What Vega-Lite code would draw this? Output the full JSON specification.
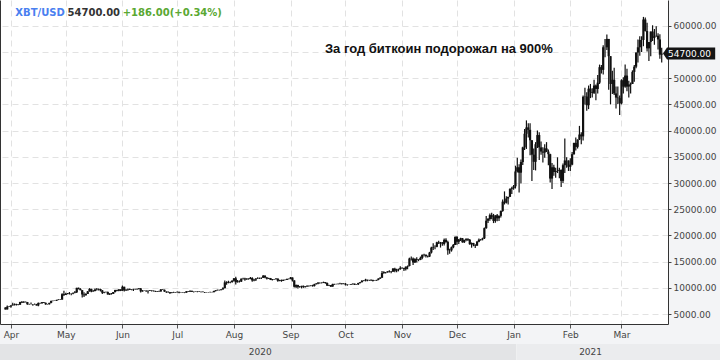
{
  "$schema": "https://vega.github.io/schema/vega-lite/v6.json",
  "background": "#f3f4f6",
  "padding": 0,
  "spacing": 20,
  "bounds": "flush",
  "config": {
    "view": {"fill": "white", "stroke": null},
    "font": "DejaVu Sans"
  },
  "datasets": {
    "ohlc": [
      {"t":"2020-03-29","o":6250,"h":6280,"l":5870,"c":5880},
      {"t":"2020-03-30","o":5880,"h":6600,"l":5860,"c":6400},
      {"t":"2020-03-31","o":6400,"h":6520,"l":6350,"c":6420},
      {"t":"2020-04-01","o":6420,"h":6680,"l":6200,"c":6640},
      {"t":"2020-04-02","o":6640,"h":7150,"l":6600,"c":6800},
      {"t":"2020-04-03","o":6800,"h":7020,"l":6620,"c":6730},
      {"t":"2020-04-04","o":6730,"h":6950,"l":6640,"c":6860},
      {"t":"2020-04-05","o":6860,"h":6880,"l":6680,"c":6770},
      {"t":"2020-04-06","o":6770,"h":7350,"l":6760,"c":7290},
      {"t":"2020-04-07","o":7290,"h":7460,"l":7100,"c":7180},
      {"t":"2020-04-08","o":7180,"h":7420,"l":7150,"c":7340},
      {"t":"2020-04-09","o":7340,"h":7370,"l":7200,"c":7300},
      {"t":"2020-04-10","o":7300,"h":7310,"l":6750,"c":6860},
      {"t":"2020-04-11","o":6860,"h":6950,"l":6780,"c":6890},
      {"t":"2020-04-12","o":6890,"h":7190,"l":6830,"c":6910},
      {"t":"2020-04-13","o":6910,"h":6920,"l":6560,"c":6850},
      {"t":"2020-04-14","o":6850,"h":6990,"l":6780,"c":6860},
      {"t":"2020-04-15","o":6860,"h":6930,"l":6610,"c":6630},
      {"t":"2020-04-16","o":6630,"h":7180,"l":6480,"c":7110},
      {"t":"2020-04-17","o":7110,"h":7150,"l":6990,"c":7030},
      {"t":"2020-04-18","o":7030,"h":7300,"l":7020,"c":7260},
      {"t":"2020-04-19","o":7260,"h":7270,"l":7080,"c":7130},
      {"t":"2020-04-20","o":7130,"h":7200,"l":6780,"c":6840},
      {"t":"2020-04-21","o":6840,"h":6930,"l":6800,"c":6850},
      {"t":"2020-04-22","o":6850,"h":7150,"l":6820,"c":7120},
      {"t":"2020-04-23","o":7120,"h":7580,"l":7030,"c":7480},
      {"t":"2020-04-24","o":7480,"h":7600,"l":7430,"c":7510},
      {"t":"2020-04-25","o":7510,"h":7590,"l":7470,"c":7540},
      {"t":"2020-04-26","o":7540,"h":7720,"l":7500,"c":7690},
      {"t":"2020-04-27","o":7690,"h":7800,"l":7650,"c":7780},
      {"t":"2020-04-28","o":7780,"h":7820,"l":7680,"c":7760},
      {"t":"2020-04-29","o":7760,"h":8950,"l":7740,"c":8780},
      {"t":"2020-04-30","o":8780,"h":9450,"l":8450,"c":8630},
      {"t":"2020-05-01","o":8630,"h":9050,"l":8620,"c":8830},
      {"t":"2020-05-02","o":8830,"h":9000,"l":8760,"c":8970},
      {"t":"2020-05-03","o":8970,"h":9200,"l":8720,"c":8900},
      {"t":"2020-05-04","o":8900,"h":8950,"l":8600,"c":8890},
      {"t":"2020-05-05","o":8890,"h":9100,"l":8780,"c":9030},
      {"t":"2020-05-06","o":9030,"h":9400,"l":8950,"c":9150},
      {"t":"2020-05-07","o":9150,"h":10000,"l":9030,"c":9990},
      {"t":"2020-05-08","o":9990,"h":10050,"l":9700,"c":9810},
      {"t":"2020-05-09","o":9810,"h":9920,"l":9520,"c":9540},
      {"t":"2020-05-10","o":9540,"h":9570,"l":8150,"c":8730},
      {"t":"2020-05-11","o":8730,"h":9150,"l":8250,"c":8570},
      {"t":"2020-05-12","o":8570,"h":8980,"l":8550,"c":8820},
      {"t":"2020-05-13","o":8820,"h":9400,"l":8800,"c":9320},
      {"t":"2020-05-14","o":9320,"h":9930,"l":9270,"c":9800},
      {"t":"2020-05-15","o":9800,"h":9840,"l":9160,"c":9310},
      {"t":"2020-05-16","o":9310,"h":9600,"l":9250,"c":9380},
      {"t":"2020-05-17","o":9380,"h":9880,"l":9340,"c":9670},
      {"t":"2020-05-18","o":9670,"h":9950,"l":9480,"c":9730},
      {"t":"2020-05-19","o":9730,"h":9890,"l":9500,"c":9780},
      {"t":"2020-05-20","o":9780,"h":9830,"l":9300,"c":9510},
      {"t":"2020-05-21","o":9510,"h":9560,"l":8830,"c":9060},
      {"t":"2020-05-22","o":9060,"h":9260,"l":8950,"c":9170},
      {"t":"2020-05-23","o":9170,"h":9310,"l":9090,"c":9180},
      {"t":"2020-05-24","o":9180,"h":9300,"l":8700,"c":8720},
      {"t":"2020-05-25","o":8720,"h":8980,"l":8640,"c":8900},
      {"t":"2020-05-26","o":8900,"h":9010,"l":8700,"c":8840},
      {"t":"2020-05-27","o":8840,"h":9220,"l":8820,"c":9200},
      {"t":"2020-05-28","o":9200,"h":9620,"l":9110,"c":9570},
      {"t":"2020-05-29","o":9570,"h":9610,"l":9330,"c":9430},
      {"t":"2020-05-30","o":9430,"h":9740,"l":9360,"c":9700},
      {"t":"2020-05-31","o":9700,"h":9700,"l":9370,"c":9450},
      {"t":"2020-06-01","o":9450,"h":10430,"l":9420,"c":10200},
      {"t":"2020-06-02","o":10200,"h":10220,"l":9280,"c":9520},
      {"t":"2020-06-03","o":9520,"h":9690,"l":9400,"c":9670},
      {"t":"2020-06-04","o":9670,"h":9880,"l":9450,"c":9790},
      {"t":"2020-06-05","o":9790,"h":9860,"l":9580,"c":9620},
      {"t":"2020-06-06","o":9620,"h":9730,"l":9530,"c":9670},
      {"t":"2020-06-07","o":9670,"h":9800,"l":9400,"c":9750},
      {"t":"2020-06-08","o":9750,"h":9800,"l":9630,"c":9780},
      {"t":"2020-06-09","o":9780,"h":9880,"l":9570,"c":9770},
      {"t":"2020-06-10","o":9770,"h":9980,"l":9690,"c":9880},
      {"t":"2020-06-11","o":9880,"h":9950,"l":9100,"c":9320},
      {"t":"2020-06-12","o":9320,"h":9560,"l":9250,"c":9480},
      {"t":"2020-06-13","o":9480,"h":9500,"l":9370,"c":9470},
      {"t":"2020-06-14","o":9470,"h":9490,"l":9250,"c":9340},
      {"t":"2020-06-15","o":9340,"h":9500,"l":8920,"c":9430},
      {"t":"2020-06-16","o":9430,"h":9580,"l":9380,"c":9520},
      {"t":"2020-06-17","o":9520,"h":9550,"l":9300,"c":9460},
      {"t":"2020-06-18","o":9460,"h":9480,"l":9280,"c":9390},
      {"t":"2020-06-19","o":9390,"h":9420,"l":9220,"c":9310},
      {"t":"2020-06-20","o":9310,"h":9400,"l":9200,"c":9360},
      {"t":"2020-06-21","o":9360,"h":9420,"l":9270,"c":9290},
      {"t":"2020-06-22","o":9290,"h":9770,"l":9280,"c":9690},
      {"t":"2020-06-23","o":9690,"h":9700,"l":9580,"c":9630},
      {"t":"2020-06-24","o":9630,"h":9660,"l":9220,"c":9290},
      {"t":"2020-06-25","o":9290,"h":9320,"l":9000,"c":9250},
      {"t":"2020-06-26","o":9250,"h":9290,"l":9050,"c":9160},
      {"t":"2020-06-27","o":9160,"h":9200,"l":8830,"c":9010},
      {"t":"2020-06-28","o":9010,"h":9170,"l":8960,"c":9110},
      {"t":"2020-06-29","o":9110,"h":9230,"l":9040,"c":9190},
      {"t":"2020-06-30","o":9190,"h":9200,"l":9080,"c":9140},
      {"t":"2020-07-01","o":9140,"h":9310,"l":9120,"c":9230},
      {"t":"2020-07-02","o":9230,"h":9260,"l":8950,"c":9090},
      {"t":"2020-07-03","o":9090,"h":9130,"l":9040,"c":9060},
      {"t":"2020-07-04","o":9060,"h":9170,"l":9050,"c":9130},
      {"t":"2020-07-05","o":9130,"h":9140,"l":8980,"c":9070},
      {"t":"2020-07-06","o":9070,"h":9360,"l":9060,"c":9340},
      {"t":"2020-07-07","o":9340,"h":9360,"l":9210,"c":9250},
      {"t":"2020-07-08","o":9250,"h":9470,"l":9230,"c":9430},
      {"t":"2020-07-09","o":9430,"h":9440,"l":9180,"c":9240},
      {"t":"2020-07-10","o":9240,"h":9310,"l":9120,"c":9290},
      {"t":"2020-07-11","o":9290,"h":9300,"l":9210,"c":9240},
      {"t":"2020-07-12","o":9240,"h":9340,"l":9160,"c":9300},
      {"t":"2020-07-13","o":9300,"h":9330,"l":9200,"c":9240},
      {"t":"2020-07-14","o":9240,"h":9280,"l":9110,"c":9260},
      {"t":"2020-07-15","o":9260,"h":9280,"l":9170,"c":9190},
      {"t":"2020-07-16","o":9190,"h":9210,"l":9010,"c":9130},
      {"t":"2020-07-17","o":9130,"h":9190,"l":9100,"c":9150},
      {"t":"2020-07-18","o":9150,"h":9200,"l":9120,"c":9170},
      {"t":"2020-07-19","o":9170,"h":9230,"l":9120,"c":9210},
      {"t":"2020-07-20","o":9210,"h":9220,"l":9140,"c":9160},
      {"t":"2020-07-21","o":9160,"h":9420,"l":9150,"c":9390},
      {"t":"2020-07-22","o":9390,"h":9550,"l":9290,"c":9540},
      {"t":"2020-07-23","o":9540,"h":9650,"l":9480,"c":9610},
      {"t":"2020-07-24","o":9610,"h":9640,"l":9480,"c":9550},
      {"t":"2020-07-25","o":9550,"h":9730,"l":9530,"c":9710},
      {"t":"2020-07-26","o":9710,"h":10100,"l":9650,"c":9930},
      {"t":"2020-07-27","o":9930,"h":11400,"l":9910,"c":11030},
      {"t":"2020-07-28","o":11030,"h":11240,"l":10600,"c":10930},
      {"t":"2020-07-29","o":10930,"h":11350,"l":10850,"c":11100},
      {"t":"2020-07-30","o":11100,"h":11180,"l":10870,"c":11110},
      {"t":"2020-07-31","o":11110,"h":11450,"l":10980,"c":11350},
      {"t":"2020-08-01","o":11350,"h":11850,"l":11220,"c":11800},
      {"t":"2020-08-02","o":11800,"h":12100,"l":10650,"c":11070},
      {"t":"2020-08-03","o":11070,"h":11480,"l":11000,"c":11230},
      {"t":"2020-08-04","o":11230,"h":11420,"l":11010,"c":11190},
      {"t":"2020-08-05","o":11190,"h":11790,"l":11100,"c":11740},
      {"t":"2020-08-06","o":11740,"h":11900,"l":11570,"c":11770},
      {"t":"2020-08-07","o":11770,"h":11900,"l":11330,"c":11600},
      {"t":"2020-08-08","o":11600,"h":11800,"l":11530,"c":11750},
      {"t":"2020-08-09","o":11750,"h":11800,"l":11550,"c":11680},
      {"t":"2020-08-10","o":11680,"h":12080,"l":11650,"c":11880},
      {"t":"2020-08-11","o":11880,"h":12000,"l":11150,"c":11410},
      {"t":"2020-08-12","o":11410,"h":11650,"l":11250,"c":11580},
      {"t":"2020-08-13","o":11580,"h":11800,"l":11300,"c":11780},
      {"t":"2020-08-14","o":11780,"h":12000,"l":11700,"c":11770},
      {"t":"2020-08-15","o":11770,"h":11960,"l":11700,"c":11870},
      {"t":"2020-08-16","o":11870,"h":11960,"l":11700,"c":11910},
      {"t":"2020-08-17","o":11910,"h":12450,"l":11850,"c":12300},
      {"t":"2020-08-18","o":12300,"h":12400,"l":11820,"c":11960},
      {"t":"2020-08-19","o":11960,"h":12050,"l":11580,"c":11750},
      {"t":"2020-08-20","o":11750,"h":11900,"l":11680,"c":11870},
      {"t":"2020-08-21","o":11870,"h":11880,"l":11480,"c":11520},
      {"t":"2020-08-22","o":11520,"h":11700,"l":11410,"c":11680},
      {"t":"2020-08-23","o":11680,"h":11700,"l":11530,"c":11650},
      {"t":"2020-08-24","o":11650,"h":11820,"l":11600,"c":11760},
      {"t":"2020-08-25","o":11760,"h":11780,"l":11150,"c":11340},
      {"t":"2020-08-26","o":11340,"h":11530,"l":11260,"c":11470},
      {"t":"2020-08-27","o":11470,"h":11580,"l":11150,"c":11320},
      {"t":"2020-08-28","o":11320,"h":11550,"l":11300,"c":11540},
      {"t":"2020-08-29","o":11540,"h":11580,"l":11450,"c":11510},
      {"t":"2020-08-30","o":11510,"h":11730,"l":11500,"c":11710},
      {"t":"2020-08-31","o":11710,"h":11770,"l":11600,"c":11680},
      {"t":"2020-09-01","o":11680,"h":12060,"l":11630,"c":11970},
      {"t":"2020-09-02","o":11970,"h":11980,"l":11200,"c":11410},
      {"t":"2020-09-03","o":11410,"h":11460,"l":10050,"c":10200},
      {"t":"2020-09-04","o":10200,"h":10620,"l":9950,"c":10520},
      {"t":"2020-09-05","o":10520,"h":10560,"l":9880,"c":10180},
      {"t":"2020-09-06","o":10180,"h":10330,"l":10000,"c":10280},
      {"t":"2020-09-07","o":10280,"h":10390,"l":9880,"c":10370},
      {"t":"2020-09-08","o":10370,"h":10430,"l":10000,"c":10130},
      {"t":"2020-09-09","o":10130,"h":10350,"l":10080,"c":10240},
      {"t":"2020-09-10","o":10240,"h":10500,"l":10200,"c":10360},
      {"t":"2020-09-11","o":10360,"h":10420,"l":10200,"c":10400},
      {"t":"2020-09-12","o":10400,"h":10480,"l":10300,"c":10450},
      {"t":"2020-09-13","o":10450,"h":10580,"l":10220,"c":10330},
      {"t":"2020-09-14","o":10330,"h":10790,"l":10230,"c":10680},
      {"t":"2020-09-15","o":10680,"h":10940,"l":10640,"c":10790},
      {"t":"2020-09-16","o":10790,"h":11100,"l":10660,"c":10950},
      {"t":"2020-09-17","o":10950,"h":11040,"l":10750,"c":10940},
      {"t":"2020-09-18","o":10940,"h":11050,"l":10810,"c":10930},
      {"t":"2020-09-19","o":10930,"h":11180,"l":10900,"c":11090},
      {"t":"2020-09-20","o":11090,"h":11090,"l":10780,"c":10920},
      {"t":"2020-09-21","o":10920,"h":10990,"l":10330,"c":10420},
      {"t":"2020-09-22","o":10420,"h":10570,"l":10370,"c":10540},
      {"t":"2020-09-23","o":10540,"h":10550,"l":10150,"c":10240},
      {"t":"2020-09-24","o":10240,"h":10790,"l":10200,"c":10740},
      {"t":"2020-09-25","o":10740,"h":10760,"l":10580,"c":10690},
      {"t":"2020-09-26","o":10690,"h":10780,"l":10670,"c":10730},
      {"t":"2020-09-27","o":10730,"h":10800,"l":10620,"c":10770},
      {"t":"2020-09-28","o":10770,"h":10960,"l":10680,"c":10710},
      {"t":"2020-09-29","o":10710,"h":10860,"l":10650,"c":10840},
      {"t":"2020-09-30","o":10840,"h":10850,"l":10680,"c":10780},
      {"t":"2020-10-01","o":10780,"h":10900,"l":10440,"c":10620},
      {"t":"2020-10-02","o":10620,"h":10660,"l":10380,"c":10570},
      {"t":"2020-10-03","o":10570,"h":10600,"l":10520,"c":10550},
      {"t":"2020-10-04","o":10550,"h":10690,"l":10530,"c":10670},
      {"t":"2020-10-05","o":10670,"h":10800,"l":10630,"c":10790},
      {"t":"2020-10-06","o":10790,"h":10800,"l":10530,"c":10600},
      {"t":"2020-10-07","o":10600,"h":10690,"l":10590,"c":10670},
      {"t":"2020-10-08","o":10670,"h":10960,"l":10550,"c":10920},
      {"t":"2020-10-09","o":10920,"h":11100,"l":10830,"c":11060},
      {"t":"2020-10-10","o":11060,"h":11480,"l":11050,"c":11300},
      {"t":"2020-10-11","o":11300,"h":11440,"l":11270,"c":11380},
      {"t":"2020-10-12","o":11380,"h":11720,"l":11220,"c":11550},
      {"t":"2020-10-13","o":11550,"h":11560,"l":11250,"c":11430},
      {"t":"2020-10-14","o":11430,"h":11550,"l":11300,"c":11430},
      {"t":"2020-10-15","o":11430,"h":11630,"l":11280,"c":11500},
      {"t":"2020-10-16","o":11500,"h":11550,"l":11220,"c":11330},
      {"t":"2020-10-17","o":11330,"h":11400,"l":11300,"c":11370},
      {"t":"2020-10-18","o":11370,"h":11520,"l":11360,"c":11510},
      {"t":"2020-10-19","o":11510,"h":11800,"l":11420,"c":11750},
      {"t":"2020-10-20","o":11750,"h":12000,"l":11700,"c":11920},
      {"t":"2020-10-21","o":11920,"h":13200,"l":11900,"c":12810},
      {"t":"2020-10-22","o":12810,"h":13180,"l":12700,"c":12990},
      {"t":"2020-10-23","o":12990,"h":13020,"l":12720,"c":12940},
      {"t":"2020-10-24","o":12940,"h":13170,"l":12900,"c":13130},
      {"t":"2020-10-25","o":13130,"h":13340,"l":12900,"c":13030},
      {"t":"2020-10-26","o":13030,"h":13230,"l":12800,"c":13070},
      {"t":"2020-10-27","o":13070,"h":13780,"l":13050,"c":13650},
      {"t":"2020-10-28","o":13650,"h":13850,"l":12950,"c":13280},
      {"t":"2020-10-29","o":13280,"h":13630,"l":12980,"c":13460},
      {"t":"2020-10-30","o":13460,"h":13660,"l":13140,"c":13560},
      {"t":"2020-10-31","o":13560,"h":14090,"l":13450,"c":13800},
      {"t":"2020-11-01","o":13800,"h":13900,"l":13620,"c":13760},
      {"t":"2020-11-02","o":13760,"h":13820,"l":13230,"c":13550},
      {"t":"2020-11-03","o":13550,"h":14070,"l":13300,"c":14030},
      {"t":"2020-11-04","o":14030,"h":14240,"l":13530,"c":14150},
      {"t":"2020-11-05","o":14150,"h":15750,"l":14100,"c":15590},
      {"t":"2020-11-06","o":15590,"h":15960,"l":15230,"c":15580},
      {"t":"2020-11-07","o":15580,"h":15770,"l":14350,"c":14840},
      {"t":"2020-11-08","o":14840,"h":15650,"l":14720,"c":15480},
      {"t":"2020-11-09","o":15480,"h":15840,"l":14830,"c":15330},
      {"t":"2020-11-10","o":15330,"h":15460,"l":15080,"c":15310},
      {"t":"2020-11-11","o":15310,"h":15960,"l":15280,"c":15700},
      {"t":"2020-11-12","o":15700,"h":16350,"l":15450,"c":16290},
      {"t":"2020-11-13","o":16290,"h":16480,"l":15980,"c":16330},
      {"t":"2020-11-14","o":16330,"h":16330,"l":15800,"c":16070},
      {"t":"2020-11-15","o":16070,"h":16150,"l":15770,"c":15970},
      {"t":"2020-11-16","o":15970,"h":16860,"l":15870,"c":16730},
      {"t":"2020-11-17","o":16730,"h":17850,"l":16540,"c":17670},
      {"t":"2020-11-18","o":17670,"h":18480,"l":17210,"c":17800},
      {"t":"2020-11-19","o":17800,"h":18140,"l":17350,"c":17820},
      {"t":"2020-11-20","o":17820,"h":18800,"l":17760,"c":18680},
      {"t":"2020-11-21","o":18680,"h":18960,"l":18350,"c":18710},
      {"t":"2020-11-22","o":18710,"h":18750,"l":17680,"c":18420},
      {"t":"2020-11-23","o":18420,"h":18760,"l":18020,"c":18370},
      {"t":"2020-11-24","o":18370,"h":19400,"l":18050,"c":19160},
      {"t":"2020-11-25","o":19160,"h":19480,"l":18600,"c":18730},
      {"t":"2020-11-26","o":18730,"h":19000,"l":16300,"c":17150},
      {"t":"2020-11-27","o":17150,"h":17460,"l":16500,"c":17140},
      {"t":"2020-11-28","o":17140,"h":17880,"l":16900,"c":17730},
      {"t":"2020-11-29","o":17730,"h":18350,"l":17530,"c":18180},
      {"t":"2020-11-30","o":18180,"h":19850,"l":18150,"c":19700},
      {"t":"2020-12-01","o":19700,"h":19900,"l":18200,"c":18790},
      {"t":"2020-12-02","o":18790,"h":19320,"l":18340,"c":19220},
      {"t":"2020-12-03","o":19220,"h":19560,"l":18950,"c":19450},
      {"t":"2020-12-04","o":19450,"h":19500,"l":18600,"c":18700},
      {"t":"2020-12-05","o":18700,"h":19180,"l":18530,"c":19150},
      {"t":"2020-12-06","o":19150,"h":19400,"l":18900,"c":19360},
      {"t":"2020-12-07","o":19360,"h":19420,"l":18920,"c":19170},
      {"t":"2020-12-08","o":19170,"h":19290,"l":18200,"c":18320},
      {"t":"2020-12-09","o":18320,"h":18650,"l":17650,"c":18550},
      {"t":"2020-12-10","o":18550,"h":18580,"l":17930,"c":18250},
      {"t":"2020-12-11","o":18250,"h":18280,"l":17600,"c":18040},
      {"t":"2020-12-12","o":18040,"h":18950,"l":18020,"c":18800},
      {"t":"2020-12-13","o":18800,"h":19400,"l":18700,"c":19170},
      {"t":"2020-12-14","o":19170,"h":19330,"l":19000,"c":19270},
      {"t":"2020-12-15","o":19270,"h":19560,"l":19050,"c":19440},
      {"t":"2020-12-16","o":19440,"h":21500,"l":19300,"c":21380},
      {"t":"2020-12-17","o":21380,"h":23700,"l":21250,"c":22800},
      {"t":"2020-12-18","o":22800,"h":23300,"l":22350,"c":23130},
      {"t":"2020-12-19","o":23130,"h":24170,"l":22800,"c":23870},
      {"t":"2020-12-20","o":23870,"h":24300,"l":23100,"c":23480},
      {"t":"2020-12-21","o":23480,"h":24100,"l":22350,"c":22750},
      {"t":"2020-12-22","o":22750,"h":23850,"l":22400,"c":23830},
      {"t":"2020-12-23","o":23830,"h":24100,"l":22700,"c":23270},
      {"t":"2020-12-24","o":23270,"h":23800,"l":22730,"c":23730},
      {"t":"2020-12-25","o":23730,"h":24770,"l":23420,"c":24660},
      {"t":"2020-12-26","o":24660,"h":26870,"l":24500,"c":26440},
      {"t":"2020-12-27","o":26440,"h":28400,"l":25900,"c":26250},
      {"t":"2020-12-28","o":26250,"h":27480,"l":26100,"c":27040},
      {"t":"2020-12-29","o":27040,"h":27400,"l":25900,"c":27360},
      {"t":"2020-12-30","o":27360,"h":28990,"l":27320,"c":28840},
      {"t":"2020-12-31","o":28840,"h":29300,"l":27900,"c":29000},
      {"t":"2021-01-01","o":29000,"h":29600,"l":28700,"c":29370},
      {"t":"2021-01-02","o":29370,"h":33300,"l":28950,"c":32190},
      {"t":"2021-01-03","o":32190,"h":34800,"l":32000,"c":33000},
      {"t":"2021-01-04","o":33000,"h":33600,"l":28200,"c":31970},
      {"t":"2021-01-05","o":31970,"h":34500,"l":29900,"c":34000},
      {"t":"2021-01-06","o":34000,"h":36900,"l":33450,"c":36800},
      {"t":"2021-01-07","o":36800,"h":40300,"l":36300,"c":39400},
      {"t":"2021-01-08","o":39400,"h":41950,"l":36500,"c":40600},
      {"t":"2021-01-09","o":40600,"h":41400,"l":38700,"c":40150},
      {"t":"2021-01-10","o":40150,"h":41400,"l":35300,"c":38150},
      {"t":"2021-01-11","o":38150,"h":38200,"l":30400,"c":35400},
      {"t":"2021-01-12","o":35400,"h":36600,"l":32500,"c":34050},
      {"t":"2021-01-13","o":34050,"h":37800,"l":32400,"c":37400},
      {"t":"2021-01-14","o":37400,"h":40000,"l":36700,"c":39150},
      {"t":"2021-01-15","o":39150,"h":39700,"l":34400,"c":36800},
      {"t":"2021-01-16","o":36800,"h":37900,"l":35400,"c":36000},
      {"t":"2021-01-17","o":36000,"h":36800,"l":33900,"c":35800},
      {"t":"2021-01-18","o":35800,"h":37400,"l":34800,"c":36600},
      {"t":"2021-01-19","o":36600,"h":37800,"l":35900,"c":36000},
      {"t":"2021-01-20","o":36000,"h":36400,"l":33400,"c":35500},
      {"t":"2021-01-21","o":35500,"h":35600,"l":30100,"c":30850},
      {"t":"2021-01-22","o":30850,"h":33800,"l":28850,"c":33000},
      {"t":"2021-01-23","o":33000,"h":33500,"l":31400,"c":32100},
      {"t":"2021-01-24","o":32100,"h":32900,"l":31000,"c":32300},
      {"t":"2021-01-25","o":32300,"h":34900,"l":31900,"c":32300},
      {"t":"2021-01-26","o":32300,"h":32900,"l":30900,"c":32500},
      {"t":"2021-01-27","o":32500,"h":32600,"l":29250,"c":30400},
      {"t":"2021-01-28","o":30400,"h":33700,"l":30000,"c":33400},
      {"t":"2021-01-29","o":33400,"h":38500,"l":31900,"c":34300},
      {"t":"2021-01-30","o":34300,"h":34900,"l":32900,"c":34300},
      {"t":"2021-01-31","o":34300,"h":34300,"l":32300,"c":33100},
      {"t":"2021-02-01","o":33100,"h":34700,"l":32300,"c":33500},
      {"t":"2021-02-02","o":33500,"h":35900,"l":33400,"c":35500},
      {"t":"2021-02-03","o":35500,"h":37700,"l":35400,"c":37650},
      {"t":"2021-02-04","o":37650,"h":38700,"l":36200,"c":36900},
      {"t":"2021-02-05","o":36900,"h":38300,"l":36600,"c":38300},
      {"t":"2021-02-06","o":38300,"h":40900,"l":38200,"c":39250},
      {"t":"2021-02-07","o":39250,"h":39700,"l":37400,"c":38900},
      {"t":"2021-02-08","o":38900,"h":46700,"l":38100,"c":46450},
      {"t":"2021-02-09","o":46450,"h":48200,"l":45000,"c":46500},
      {"t":"2021-02-10","o":46500,"h":47300,"l":43800,"c":44850},
      {"t":"2021-02-11","o":44850,"h":48600,"l":44100,"c":48000},
      {"t":"2021-02-12","o":48000,"h":48900,"l":46200,"c":47400},
      {"t":"2021-02-13","o":47400,"h":48100,"l":46300,"c":47200},
      {"t":"2021-02-14","o":47200,"h":49700,"l":47000,"c":48600},
      {"t":"2021-02-15","o":48600,"h":48800,"l":45800,"c":47950},
      {"t":"2021-02-16","o":47950,"h":50600,"l":47100,"c":49150},
      {"t":"2021-02-17","o":49150,"h":52600,"l":48900,"c":52100},
      {"t":"2021-02-18","o":52100,"h":52500,"l":50900,"c":51600},
      {"t":"2021-02-19","o":51600,"h":56300,"l":50700,"c":55900},
      {"t":"2021-02-20","o":55900,"h":57500,"l":54000,"c":55900},
      {"t":"2021-02-21","o":55900,"h":58350,"l":55400,"c":57500},
      {"t":"2021-02-22","o":57500,"h":57500,"l":47800,"c":54200},
      {"t":"2021-02-23","o":54200,"h":54200,"l":45000,"c":48900},
      {"t":"2021-02-24","o":48900,"h":51400,"l":47000,"c":49700},
      {"t":"2021-02-25","o":49700,"h":52000,"l":46800,"c":47100},
      {"t":"2021-02-26","o":47100,"h":48400,"l":44200,"c":46300},
      {"t":"2021-02-27","o":46300,"h":48400,"l":45100,"c":46200},
      {"t":"2021-02-28","o":46200,"h":46700,"l":43000,"c":45200},
      {"t":"2021-03-01","o":45200,"h":49800,"l":45000,"c":49600},
      {"t":"2021-03-02","o":49600,"h":50200,"l":47100,"c":48400},
      {"t":"2021-03-03","o":48400,"h":52600,"l":48200,"c":50500},
      {"t":"2021-03-04","o":50500,"h":51800,"l":47500,"c":48400},
      {"t":"2021-03-05","o":48400,"h":49500,"l":46300,"c":48800},
      {"t":"2021-03-06","o":48800,"h":49200,"l":47100,"c":48900},
      {"t":"2021-03-07","o":48900,"h":51500,"l":48900,"c":51200},
      {"t":"2021-03-08","o":51200,"h":52500,"l":49300,"c":52200},
      {"t":"2021-03-09","o":52200,"h":54900,"l":51900,"c":54900},
      {"t":"2021-03-10","o":54900,"h":57400,"l":53000,"c":55900},
      {"t":"2021-03-11","o":55900,"h":58000,"l":54300,"c":57300},
      {"t":"2021-03-12","o":57300,"h":58000,"l":55000,"c":57300},
      {"t":"2021-03-13","o":57300,"h":61700,"l":56100,"c":61200},
      {"t":"2021-03-14","o":61200,"h":61600,"l":58900,"c":59000},
      {"t":"2021-03-15","o":59000,"h":60600,"l":55100,"c":55700},
      {"t":"2021-03-16","o":55700,"h":56900,"l":53300,"c":56900},
      {"t":"2021-03-17","o":56900,"h":58900,"l":54200,"c":58900},
      {"t":"2021-03-18","o":58900,"h":60100,"l":57100,"c":57700},
      {"t":"2021-03-19","o":57700,"h":59400,"l":56400,"c":58000},
      {"t":"2021-03-20","o":58000,"h":59900,"l":57900,"c":58100},
      {"t":"2021-03-21","o":58100,"h":58600,"l":55500,"c":57400},
      {"t":"2021-03-22","o":57400,"h":58400,"l":53700,"c":54500},
      {"t":"2021-03-23","o":54500,"h":55800,"l":53000,"c":54700}
    ],
    "years": [
      {"yr":"2020","s":"2020-01-01","e":"2021-01-01","m":"2020-08-16"},
      {"yr":"2021","s":"2021-01-01","e":"2021-04-21","m":"2021-02-10"}
    ],
    "last": [{"price":54700}]
  },
  "vconcat": [
    {
      "width": 668,
      "height": 324,
      "data": {"name": "ohlc"},
      "resolve": {"axis": {"y": "independent"}},
      "layer": [
        {
          "mark": {"type": "rule", "color": "#111111", "strokeWidth": 1.2},
          "encoding": {
            "x": {
              "field": "t", "type": "temporal",
              "scale": {"type": "utc", "domain": [
                {"year": 2020, "month": 3, "date": 28, "hours": 18, "minutes": 20, "utc": true},
                {"year": 2021, "month": 3, "date": 23, "hours": 17, "utc": true}
              ]},
              "axis": {
                "orient": "bottom", "title": null, "format": "%b",
                "tickCount": {"interval": "month", "step": 1},
                "labelFont": "DejaVu Sans", "labelFontSize": 9, "labelColor": "#444444",
                "labelPadding": 2, "labelFlush": 7, "labelFlushOffset": 6, "labelOverlap": false,
                "tickSize": 4, "tickColor": "#555555",
                "domainColor": "#333333",
                "grid": true, "gridColor": "#e2e2e2", "gridDash": [6, 4]
              }
            },
            "y": {
              "field": "l", "type": "quantitative",
              "scale": {"domain": [3092, 64924], "nice": false, "zero": false},
              "axis": {
                "orient": "right", "title": null, "format": ".2f",
                "values": [5000, 10000, 15000, 20000, 25000, 30000, 35000, 40000, 45000, 50000, 55000, 60000],
                "labelExpr": "datum.value == 55000 ? '' : datum.label",
                "labelFont": "DejaVu Sans", "labelFontSize": 9, "labelColor": "#444444",
                "labelPadding": 2, "tickSize": 3, "tickColor": "#444444",
                "domainColor": "#333333",
                "grid": true, "gridColor": "#e2e2e2", "gridDash": [6, 4]
              }
            },
            "y2": {"field": "h"}
          }
        },
        {
          "mark": {"type": "bar", "color": "#111111", "width": 2.2},
          "encoding": {
            "x": {"field": "t", "type": "temporal"},
            "y": {
              "field": "o", "type": "quantitative",
              "axis": {"orient": "left", "title": null, "labels": false, "ticks": false, "grid": false, "domainColor": "#333333"}
            },
            "y2": {"field": "c"}
          }
        },
        {
          "data": {"name": "last"},
          "mark": {"type": "point", "filled": true, "opacity": 1, "color": "#151515", "size": 144,
                   "shape": "M0,0L0.67,-1L8.7,-1L8.7,1L0.67,1Z"},
          "encoding": {
            "x": {"datum": {"year": 2021, "month": 3, "date": 23, "hours": 17, "utc": true}, "type": "temporal"},
            "y": {"field": "price", "type": "quantitative", "axis": null}
          }
        },
        {
          "data": {"name": "last"},
          "mark": {"type": "text", "align": "left", "baseline": "middle", "dx": 5, "color": "#ffffff", "font": "DejaVu Sans", "fontSize": 9},
          "encoding": {
            "x": {"datum": {"year": 2021, "month": 3, "date": 23, "hours": 17, "utc": true}, "type": "temporal"},
            "y": {"field": "price", "type": "quantitative", "axis": null},
            "text": {"field": "price", "format": ".2f"}
          }
        },
        {
          "data": {"values": [{"label": "XBT/USD"}]},
          "mark": {"type": "text", "align": "left", "baseline": "alphabetic", "color": "#4a80f0", "font": "DejaVu Sans", "fontSize": 10, "fontWeight": "bold"},
          "encoding": {
            "x": {"datum": {"year": 2020, "month": 4, "date": 3, "hours": 10, "utc": true}, "type": "temporal"},
            "y": {"datum": 61870, "type": "quantitative", "axis": null},
            "text": {"field": "label"}
          }
        },
        {
          "data": {"values": [{"label": "54700.00"}]},
          "mark": {"type": "text", "align": "left", "baseline": "alphabetic", "color": "#333333", "font": "DejaVu Sans", "fontSize": 10, "fontWeight": "bold"},
          "encoding": {
            "x": {"datum": {"year": 2020, "month": 5, "date": 1, "hours": 23, "minutes": 40, "utc": true}, "type": "temporal"},
            "y": {"datum": 61870, "type": "quantitative", "axis": null},
            "text": {"field": "label"}
          }
        },
        {
          "data": {"values": [{"label": "+186.00(+0.34%)"}]},
          "mark": {"type": "text", "align": "left", "baseline": "alphabetic", "color": "#5aa832", "font": "DejaVu Sans", "fontSize": 10, "fontWeight": "bold"},
          "encoding": {
            "x": {"datum": {"year": 2020, "month": 6, "date": 1, "hours": 4, "utc": true}, "type": "temporal"},
            "y": {"datum": 61870, "type": "quantitative", "axis": null},
            "text": {"field": "label"}
          }
        },
        {
          "data": {"values": [{"note": "За год биткоин подорожал на 900%"}]},
          "mark": {"type": "text", "align": "center", "baseline": "middle", "color": "#111111", "font": "Liberation Sans", "fontSize": 13, "fontWeight": "bold"},
          "encoding": {
            "x": {"datum": {"year": 2020, "month": 11, "date": 21, "hours": 3, "utc": true}, "type": "temporal"},
            "y": {"datum": 55570, "type": "quantitative", "axis": null},
            "text": {"field": "note"}
          }
        }
      ]
    },
    {
      "width": 668,
      "height": 16,
      "data": {"name": "years"},
      "layer": [
        {
          "transform": [{"filter": "datum.yr == '2020'"}],
          "mark": {"type": "rect", "color": "#e3e4e6", "clip": true},
          "encoding": {
            "x": {
              "field": "s", "type": "temporal", "axis": null,
              "scale": {"type": "utc", "domain": [
                {"year": 2020, "month": 3, "date": 28, "hours": 18, "minutes": 20, "utc": true},
                {"year": 2021, "month": 3, "date": 23, "hours": 17, "utc": true}
              ]}
            },
            "x2": {"field": "e"}
          }
        },
        {
          "transform": [{"filter": "datum.yr == '2021'"}],
          "mark": {"type": "rect", "color": "#ebecee"},
          "encoding": {
            "x": {"field": "s", "type": "temporal"},
            "x2": {"field": "e"}
          }
        },
        {
          "mark": {"type": "text", "align": "center", "baseline": "middle", "color": "#444444", "font": "DejaVu Sans", "fontSize": 9},
          "encoding": {
            "x": {"field": "m", "type": "temporal"},
            "text": {"field": "yr"}
          }
        }
      ]
    }
  ]
}
